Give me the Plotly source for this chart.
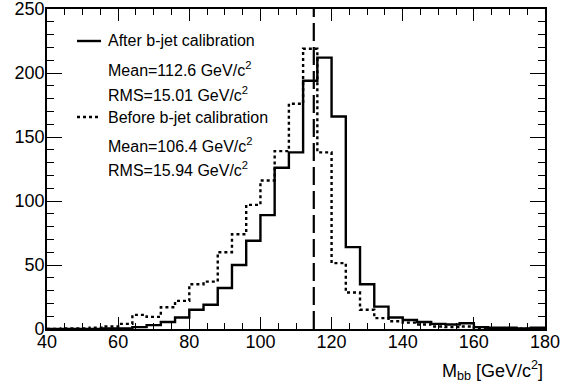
import plotly.graph_objects as go

# Bin edges: 40..180 GeV in 4 GeV bins
bin_lo = list(range(40, 180, 4))
bin_width = 4

after_calib = [0, 0, 0, 0, 0.5, 0.5, 1.5, 3, 5.5, 9, 15, 19, 32, 50, 69, 89, 126, 138,
               194, 212, 166, 64, 35, 17.5, 9, 7, 5.5, 4, 3.5, 4.5, 1.5, 1, 1, 0.5, 1]
before_calib = [0, 0.5, 0.5, 1, 2, 4, 11, 9.5, 17, 22, 35, 37, 60, 74, 97, 116, 139, 176,
                219, 138, 51.5, 28.5, 15, 8.5, 6, 5, 3.5, 2, 1.5, 2, 0.5, 0.5, 0.5, 0.3, 0.3]
higgs_mass = 115

legend_after = ["After b-jet calibration", "Mean=112.6 GeV/c<sup>2</sup>", "RMS=15.01 GeV/c<sup>2</sup>"]
legend_before = ["Before b-jet calibration", "Mean=106.4 GeV/c<sup>2</sup>", "RMS=15.94 GeV/c<sup>2</sup>"]

FONT = "Liberation Sans, Arial, Helvetica, sans-serif"

def step_xy(vals):
    xs = bin_lo + [bin_lo[-1] + bin_width]
    ys = list(vals) + [vals[-1]]
    return xs, ys

fig = go.Figure()
x1, y1 = step_xy(after_calib)
x2, y2 = step_xy(before_calib)
fig.add_trace(go.Scatter(x=x2, y=y2, mode="lines", line=dict(shape="hv", color="black", width=2.4, dash="dot"),
                         hoverinfo="skip"))
fig.add_trace(go.Scatter(x=x1, y=y1, mode="lines", line=dict(shape="hv", color="black", width=2.4),
                         hoverinfo="skip"))
fig.add_trace(go.Scatter(x=[higgs_mass, higgs_mass], y=[0, 250], mode="lines",
                         line=dict(color="black", width=2.2, dash="18px,6px"), hoverinfo="skip"))

W, H = 580, 390
L, R, T, B = 47, 35, 9, 61
pw, ph = W - L - R, H - T - B

def px(xp):
    return (xp - L) / pw

def py(yp):
    return (H - B - yp) / ph

# legend samples
fig.add_shape(type="line", xref="paper", yref="paper", x0=px(77), x1=px(101), y0=py(41), y1=py(41),
              line=dict(color="black", width=2.4))
fig.add_shape(type="line", xref="paper", yref="paper", x0=px(77), x1=px(101), y0=py(117), y1=py(117),
              line=dict(color="black", width=2.4, dash="dot"))

ys_after = [41, 69, 94]
ys_before = [117, 145, 169]
for txt, yy in zip(legend_after + legend_before, ys_after + ys_before):
    fig.add_annotation(text=txt, xref="paper", yref="paper", x=px(106), y=py(yy), xanchor="left",
                       yanchor="middle", showarrow=False, font=dict(family=FONT, size=16, color="black"))

fig.add_annotation(text="M<sub>bb</sub> [GeV/c<sup>2</sup>]", xref="paper", yref="paper", x=1.0, y=py(370),
                   xanchor="right", yanchor="middle", showarrow=False,
                   font=dict(family=FONT, size=18, color="black"))

axis_common = dict(showline=True, linecolor="black", linewidth=1.6, mirror="allticks", ticks="inside",
                   tickcolor="black", tickwidth=1.2, showgrid=False, zeroline=False,
                   ticklabeloverflow="allow",
                   tickfont=dict(family=FONT, size=18, color="black"))

fig.update_xaxes(range=[40, 180], dtick=20, tick0=40, ticklen=12, ticklabelstandoff=-4,
                 minor=dict(dtick=5, ticks="inside", ticklen=6, tickcolor="black", tickwidth=1.2, showgrid=False),
                 **axis_common)
fig.update_yaxes(range=[0, 250], dtick=50, tick0=0, ticklen=15, ticklabelstandoff=-3,
                 minor=dict(dtick=10, ticks="inside", ticklen=7, tickcolor="black", tickwidth=1.2, showgrid=False),
                 **axis_common)

fig.update_layout(width=W, height=H, margin=dict(l=L, r=R, t=T, b=B, autoexpand=False),
                  plot_bgcolor="white", paper_bgcolor="white", showlegend=False,
                  font=dict(family=FONT, color="black"))

fig.write_html("out.html")
